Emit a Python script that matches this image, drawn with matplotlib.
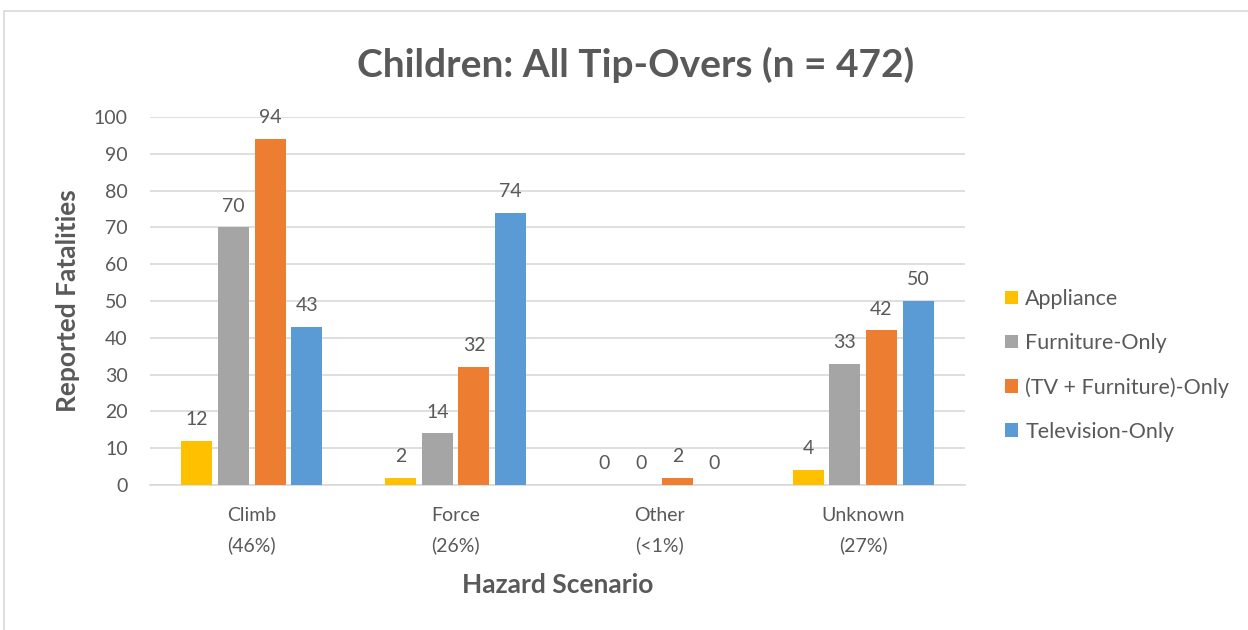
import numpy as np
import matplotlib
matplotlib.use("Agg")
import matplotlib.pyplot as plt
from matplotlib.patches import Rectangle

plt.rcParams['font.family'] = ['Lato', 'DejaVu Sans']

categories = ["Climb\n(46%)", "Force\n(26%)", "Other\n(<1%)", "Unknown\n(27%)"]
series = ["Appliance", "Furniture-Only", "(TV + Furniture)-Only", "Television-Only"]
appliance = [12, 2, 0, 4]
furniture = [70, 14, 0, 33]
tv_furniture = [94, 32, 2, 42]
television = [43, 74, 0, 50]
values = [appliance, furniture, tv_furniture, television]
colors = ['#FFC000', '#A5A5A5', '#ED7D31', '#5B9BD5']
text_gray = '#595959'

fig = plt.figure(figsize=(12.48, 6.3), dpi=100)
# chart frame (only top and left edges fall inside the picture)
fig.patches.append(Rectangle((4 / 1248, -0.5), 1.5, 1.5 - 11 / 630, transform=fig.transFigure,
                             fill=False, edgecolor='#d9d9d9', linewidth=1.2))

ax = fig.add_axes([150 / 1248, 1 - 485 / 630, 815 / 1248, (485 - 117) / 630])

x = np.arange(len(categories))
step = 0.18
width = 0.152
for i, (name, vals, c) in enumerate(zip(series, values, colors)):
    pos = x + (i - 1.5) * step
    ax.bar(pos, vals, width, color=c, label=name, zorder=3)
    for p, v in zip(pos, vals):
        ax.text(p, v + 3.5, str(v), ha='center', va='bottom', fontsize=14, color=text_gray)

ax.set_xlim(-0.5, 3.5)
ax.set_ylim(0, 100)
ax.set_yticks(range(0, 101, 10))
ax.grid(axis='y', color='#d9d9d9', linewidth=1.2, zorder=0)
for s in ['top', 'right', 'left']:
    ax.spines[s].set_visible(False)
ax.spines['bottom'].set_color('#d9d9d9')
ax.spines['bottom'].set_linewidth(1.2)
ax.tick_params(axis='both', length=0, labelsize=14, labelcolor=text_gray)
ax.tick_params(axis='y', pad=16)
ax.tick_params(axis='x', pad=16)
ax.set_xticks(x)
ax.set_xticklabels(categories, fontsize=14, linespacing=1.8)

ax.set_ylabel("Reported Fatalities", fontsize=19, fontweight='bold', color=text_gray, labelpad=10)
ax.set_xlabel("Hazard Scenario", fontsize=19, fontweight='bold', color=text_gray, labelpad=14)
fig.text(636 / 1248, 1 - 65 / 630, "Children: All Tip-Overs (n = 472)", ha='center', va='center',
         fontsize=28, fontweight='bold', color=text_gray)

leg = ax.legend(loc='center left', bbox_to_anchor=(1.025, 0.325), frameon=False, fontsize=15.5,
                handlelength=0.6, handleheight=0.6, handletextpad=0.35, labelspacing=1.12,
                labelcolor=text_gray)

fig.savefig("out.png", dpi=100)
